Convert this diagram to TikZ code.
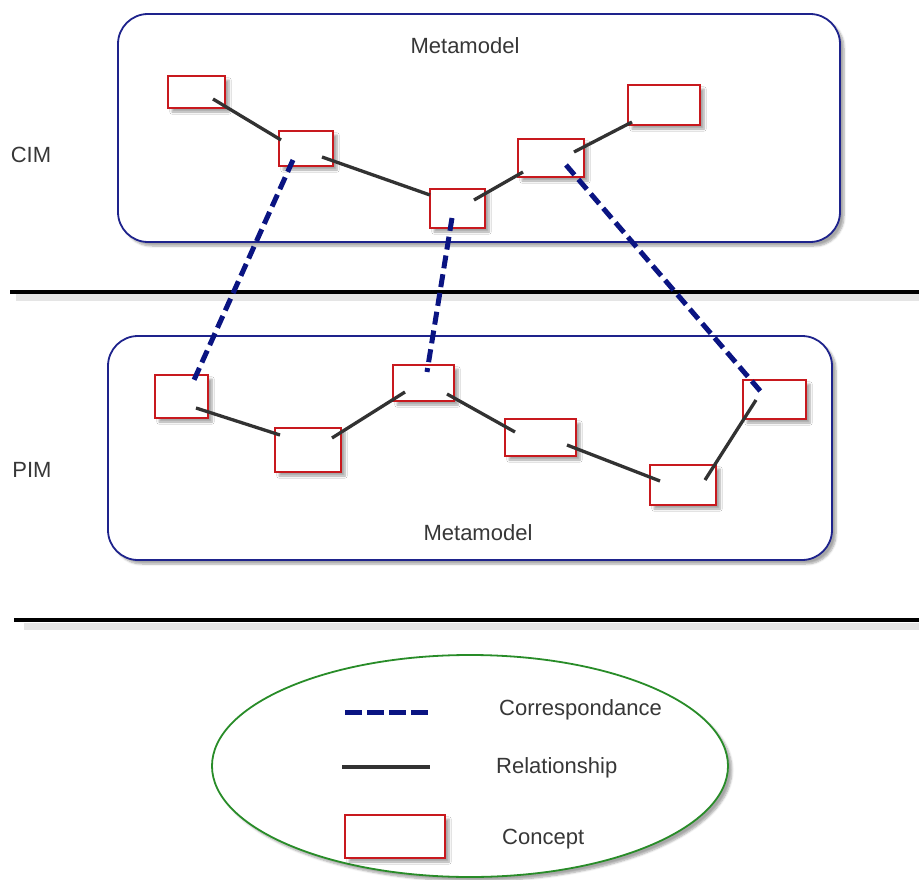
\documentclass[tikz,border=0pt]{standalone}
\usepackage{fontspec}
\setmainfont{Liberation Sans}
\usetikzlibrary{shadows.blur,calc,shapes.geometric}

\definecolor{conceptred}{RGB}{200,25,30}
\definecolor{framenavy}{RGB}{30,35,140}
\definecolor{corrnavy}{RGB}{10,20,130}
\definecolor{relgray}{RGB}{50,50,50}
\definecolor{legendgreen}{RGB}{40,140,40}
\definecolor{txtgray}{RGB}{55,55,55}

\tikzset{
  softshadow/.style={blur shadow={shadow xshift=4pt, shadow yshift=-4pt,
      shadow blur steps=6, shadow opacity=35}},
  frame/.style={draw=framenavy, line width=1.8pt, rounded corners=30pt,
      fill=white, softshadow, inner sep=0pt},
  concept/.style={draw=conceptred, line width=2.4pt, fill=white, inner sep=0pt,
      softshadow},
  relation/.style={draw=relgray, line width=3.3pt},
  corresp/.style={draw=corrnavy, line width=5pt, dash pattern=on 13pt off 6pt},
  level/.style={draw=black, line width=3.5pt},
  levelshadow/.style={draw=black!10, line width=7pt},
  label/.style={text=txtgray, font=\fontsize{22}{26}\selectfont, inner sep=0pt},
}

\begin{document}
\begin{tikzpicture}[x=1pt, y=-1pt]
\useasboundingbox (0,0) rectangle (919,880);

% level separators
\coordinate (sepAl) at (10,292);
\coordinate (sepAr) at (919,292);
\coordinate (sepBl) at (14,620);
\coordinate (sepBr) at (919,620);
\draw[levelshadow] ($(sepAl)+(6,5)$) -- ($(sepAr)+(0,5)$);
\draw[levelshadow] ($(sepBl)+(10,6)$) -- ($(sepBr)+(0,6)$);
\draw[level] (sepAl) -- (sepAr);
\draw[level] (sepBl) -- (sepBr);

% metamodel frames
\node[frame, minimum width=722pt, minimum height=228pt] (cimframe) at (479,128) {};
\node[frame, minimum width=724pt, minimum height=224pt] (pimframe) at (470,448) {};
\node[label] (cimtitle) at (465,46) {Metamodel};
\node[label] (pimtitle) at (478,533) {Metamodel};

% level names
\node[label] (cim) at (31,155) {CIM};
\node[label] (pim) at (32,470) {PIM};

% CIM concepts
\node[concept, minimum width=57pt, minimum height=32pt] (c1) at (196.5,92) {};
\node[concept, minimum width=54pt, minimum height=35pt] (c2) at (306,148.5) {};
\node[concept, minimum width=55pt, minimum height=39pt] (c3) at (457.5,208.5) {};
\node[concept, minimum width=66pt, minimum height=38pt] (c4) at (551,158) {};
\node[concept, minimum width=72pt, minimum height=40pt] (c5) at (664,105) {};

% PIM concepts
\node[concept, minimum width=53pt, minimum height=43pt] (p1) at (181.5,396.5) {};
\node[concept, minimum width=66pt, minimum height=44pt] (p2) at (308,450) {};
\node[concept, minimum width=61pt, minimum height=36pt] (p3) at (423.5,383) {};
\node[concept, minimum width=71pt, minimum height=37pt] (p4) at (540.5,437.5) {};
\node[concept, minimum width=66pt, minimum height=40pt] (p5) at (683,485) {};
\node[concept, minimum width=63pt, minimum height=39pt] (p6) at (774.5,399.5) {};

% relationships inside the CIM metamodel
\draw[relation] ([shift={(16.5,7)}]c1.center) -- ([shift={(-25,-8.5)}]c2.center);
\draw[relation] ([shift={(16,8.5)}]c2.center) -- ([shift={(-27.5,-13.5)}]c3.center);
\draw[relation] ([shift={(16.5,-8.5)}]c3.center) -- ([shift={(-28,14)}]c4.center);
\draw[relation] ([shift={(23,-6)}]c4.center) -- ([shift={(-32,17)}]c5.center);

% relationships inside the PIM metamodel
\draw[relation] ([shift={(14.5,11.5)}]p1.center) -- ([shift={(-28,-15)}]p2.center);
\draw[relation] ([shift={(24,-12)}]p2.center) -- ([shift={(-18.5,9)}]p3.center);
\draw[relation] ([shift={(23.5,11)}]p3.center) -- ([shift={(-25.5,-5.5)}]p4.center);
\draw[relation] ([shift={(26.5,7.5)}]p4.center) -- ([shift={(-23,-4)}]p5.center);
\draw[relation] ([shift={(22,-5)}]p5.center) -- ([shift={(-18.5,0.5)}]p6.center);

% correspondences between levels
\draw[corresp] ([shift={(-13,11.5)}]c2.center) -- ([shift={(12.5,-16.5)}]p1.center);
\draw[corresp] ([shift={(-5.5,9.5)}]c3.center) -- ([shift={(3.5,-11)}]p3.center);
\draw[corresp] ([shift={(15,7)}]c4.center) -- ([shift={(-12.5,-6.5)}]p6.center);

% legend
\node[draw=legendgreen, line width=1.8pt, ellipse, fill=white, softshadow,
      minimum width=516pt, minimum height=222pt, inner sep=0pt] (legend) at (470,766) {};
\coordinate (lgCa) at (345,712);
\coordinate (lgCb) at (428,712);
\coordinate (lgRa) at (342,767);
\coordinate (lgRb) at (430,767);
\draw[corresp, dash pattern=on 17pt off 5pt] (lgCa) -- (lgCb);
\draw[relation] (lgRa) -- (lgRb);
\node[concept, minimum width=100pt, minimum height=43pt] (lgconcept) at (395,836.5) {};
\node[label, anchor=west] (lgCtext) at (499,710) {Correspondance};
\node[label, anchor=west] (lgRtext) at (496,768) {Relationship};
\node[label, anchor=west] (lgKtext) at (502,839) {Concept};
\end{tikzpicture}
\end{document}
